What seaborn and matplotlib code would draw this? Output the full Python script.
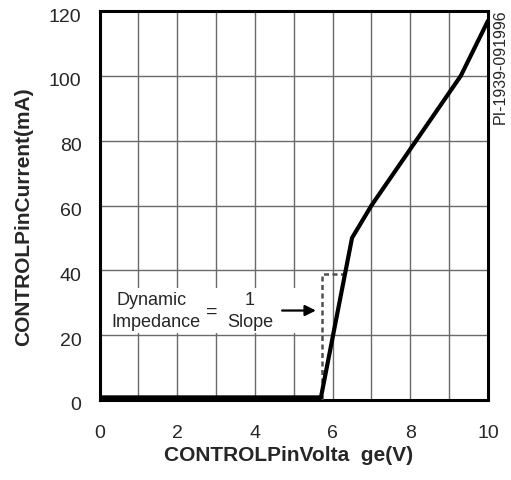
import matplotlib
matplotlib.use("Agg")
import matplotlib.pyplot as plt
from matplotlib.patches import Rectangle
from matplotlib.transforms import ScaledTranslation
import seaborn as sns
import pandas as pd

# CONTROL pin current vs. voltage characteristic
voltage = [0.0, 5.7, 6.5, 7.0, 9.3, 10.0]
current = [0.8, 0.8, 50.0, 60.0, 100.0, 117.0]

# dashed construction line marking the dynamic impedance region
dash_v = [5.73, 5.73, 6.30]
dash_i = [0.0, 38.8, 38.8]

x_ticks = [0, 2, 4, 6, 8, 10]
y_ticks = [0, 20, 40, 60, 80, 100, 120]

sns.set_style("white")
plt.rcParams["font.family"] = ["Liberation Sans", "DejaVu Sans"]

fig = plt.figure(figsize=(5.11, 4.81), dpi=100)
ax = fig.add_axes([99.5 / 511, 1 - 401 / 481, 388.5 / 511, 389 / 481])

df = pd.DataFrame({"V": voltage, "I": current})
sns.lineplot(data=df, x="V", y="I", ax=ax, color="black", linewidth=3.0,
             sort=False, estimator=None, zorder=5)

ax.plot(dash_v, dash_i, color="#505050", linewidth=1.8,
        linestyle=(0, (2.0, 1.4)), zorder=4)

ax.set_xlim(0, 10)
ax.set_ylim(0, 120)
ax.set_xticks(x_ticks)
ax.set_yticks(y_ticks)
ax.set_xticks(range(0, 11), minor=True)
ax.grid(True, which="both", color="#6a6a6a", linewidth=1.0)
ax.set_axisbelow(True)

for s in ax.spines.values():
    s.set_visible(True)
    s.set_color("black")
    s.set_linewidth(2.2)

ax.tick_params(axis="both", which="both", length=0, labelsize=14)
ax.tick_params(axis="x", pad=17)
ax.tick_params(axis="y", pad=13)

# y tick labels sit slightly below their grid lines
shift = ScaledTranslation(0, -3 / 100, fig.dpi_scale_trans)
for lbl in ax.get_yticklabels():
    lbl.set_transform(lbl.get_transform() + shift)

ax.set_xlabel("CONTROLPinVolta  ge(V)", fontsize=15, fontweight="bold")
ax.set_ylabel("CONTROLPinCurrent(mA)", fontsize=15, fontweight="bold")
ax.xaxis.set_label_coords(0.487, -0.116)
ax.yaxis.set_label_coords(-0.172, 0.473)

# white panel behind the annotation text
ax.add_patch(Rectangle((0.05, 20.6), 5.45, 14.0, facecolor="white",
                       edgecolor="none", zorder=1.5))

ax.text(1.33, 31.0, "Dynamic", ha="center", va="center", fontsize=13, zorder=6)
ax.text(1.46, 24.3, "Impedance", ha="center", va="center", fontsize=13, zorder=6)
ax.text(2.88, 27.5, "=", ha="center", va="center", fontsize=14, zorder=6)
ax.text(3.87, 31.0, "1", ha="center", va="center", fontsize=13, zorder=6)
ax.text(3.87, 24.3, "Slope", ha="center", va="center", fontsize=13, zorder=6)
ax.annotate("", xy=(5.57, 27.6), xytext=(4.7, 27.6),
            arrowprops=dict(arrowstyle="-|>", color="black", lw=1.6,
                            mutation_scale=16, shrinkA=0, shrinkB=0),
            zorder=6)

fig.text(500.5 / 511, 1 - 9 / 481, "PI-1939-091996", rotation=90,
         ha="center", va="top", fontsize=11.5)

fig.savefig("out.png", dpi=100)
